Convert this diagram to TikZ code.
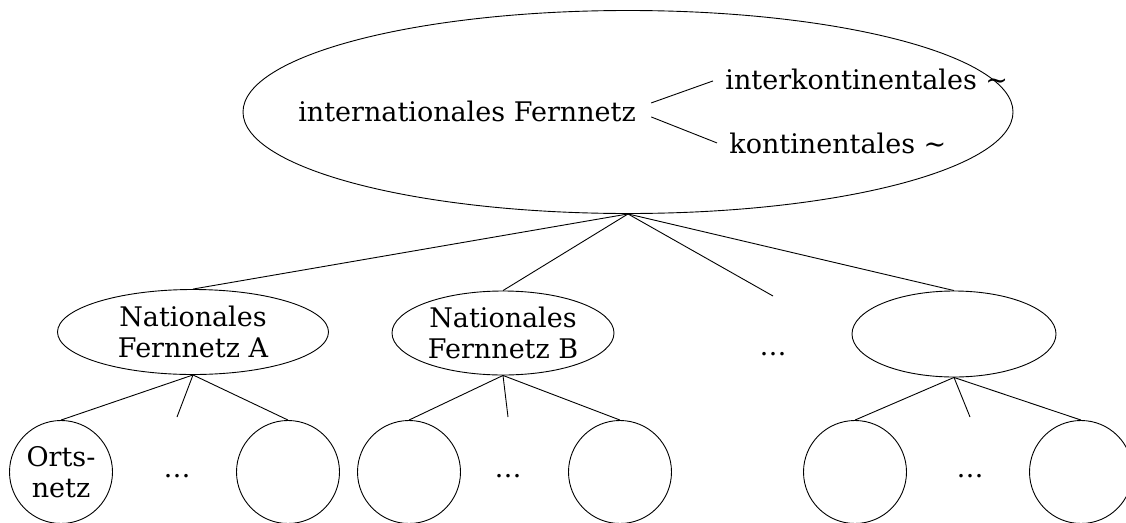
\documentclass[tikz,border=0pt]{standalone}
\usepackage{fontspec}
\setmainfont{DejaVu Serif}
\usetikzlibrary{shapes.geometric}

\begin{document}
\begin{tikzpicture}[x=1pt, y=-1pt, line width=0.9pt,
    every node/.style={font=\fontsize{27}{31}\selectfont, inner sep=0pt},
    netz/.style={ellipse, draw, align=center},
    ort/.style={circle, draw, minimum size=103pt, align=center}]
  \useasboundingbox (0,0) rectangle (1126,522);
  % international level
  \node[netz, minimum width=770pt, minimum height=203pt] (inet) at (628,112) {};
  \node[anchor=base] (intl) at (467,121) {internationales Fernnetz};
  \node[anchor=base west] (intk) at (725,89) {interkontinentales \textasciitilde};
  \node[anchor=base west] (kont) at (729,153) {kontinentales \textasciitilde};
  \draw ([shift={(15,-8)}]intl.east) -- ([shift={(-12,2)}]intk.west);
  \draw ([shift={(15,6)}]intl.east) -- ([shift={(-12,0)}]kont.west);
  % national level
  \node[netz, minimum width=271pt, minimum height=85pt] (natA) at (193,332) {Nationales\\Fernnetz A};
  \node[netz, minimum width=222pt, minimum height=84pt] (natB) at (503,333) {Nationales\\Fernnetz B};
  \node[netz, minimum width=204pt, minimum height=86pt] (natX) at (954,334) {};
  \node[anchor=base] (dotsN) at (773,355) {\ldots};
  \coordinate (fN) at (773,296);
  \foreach \c in {natA, natB, natX}
    \draw (inet.south) -- (\c.north);
  \draw (inet.south) -- (fN);
  % local level
  \node[ort] (a1) at (61,472) {Orts-\\netz};
  \foreach \n/\x in {a2/288, b1/409, b2/620, x1/855, x2/1081}
    \node[ort] (\n) at (\x,472) {};
  \foreach \p/\x in {natA/177, natB/508, natX/970} {
    \node[anchor=base] (dots\p) at (\x,477) {\ldots};
    \coordinate (f\p) at (\x,417);
  }
  \draw (natA.south) -- (a1.north);
  \draw (natA.south) -- (fnatA);
  \draw (natA.south) -- (a2.north);
  \draw (natB.south) -- (b1.north);
  \draw (natB.south) -- (fnatB);
  \draw (natB.south) -- (b2.north);
  \draw (natX.south) -- (x1.north);
  \draw (natX.south) -- (fnatX);
  \draw (natX.south) -- (x2.north);
\end{tikzpicture}
\end{document}
